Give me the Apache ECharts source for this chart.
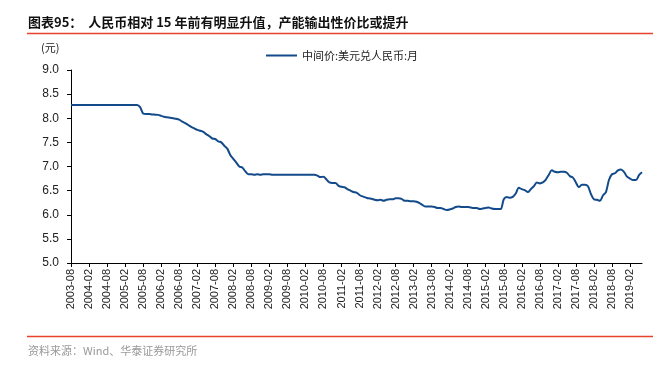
<!DOCTYPE html>
<html>
<head>
<meta charset="utf-8">
<script src="https://cdn.jsdelivr.net/npm/echarts@6/dist/echarts.min.js"></script>
<style>
html,body{margin:0;padding:0;background:#fff;}
#c{width:658px;height:372px;}
</style>
</head>
<body>
<div id="c"></div>
<script>
// Monthly categories 2003-08 .. 2019-06
var startYear = 2003, startMonth = 8, monthCount = 191;
var categories = [];
for (var i = 0; i < monthCount; i++) {
  var m = startMonth - 1 + i;
  var y = startYear + Math.floor(m / 12);
  var mm = (m % 12) + 1;
  categories.push(y + '-' + (mm < 10 ? '0' + mm : '' + mm));
}

var seriesName = '中间价:美元兑人民币:月';
var v2003 = [8.277, 8.277, 8.277, 8.277, 8.277];
var v2004 = [8.277, 8.277, 8.277, 8.277, 8.277, 8.277, 8.277, 8.277, 8.277, 8.277, 8.277, 8.277];
var v2005 = [8.277, 8.277, 8.277, 8.277, 8.277, 8.277, 8.23, 8.10, 8.09, 8.09, 8.08, 8.075];
var v2006 = [8.07, 8.05, 8.03, 8.02, 8.01, 8.00, 7.99, 7.97, 7.93, 7.90, 7.86, 7.82];
var v2007 = [7.79, 7.76, 7.74, 7.72, 7.67, 7.63, 7.58, 7.57, 7.52, 7.50, 7.43, 7.37];
var v2008 = [7.24, 7.16, 7.08, 7.00, 6.98, 6.90, 6.84, 6.84, 6.83, 6.84, 6.83, 6.84];
var v2009 = [6.84, 6.84, 6.83, 6.83, 6.83, 6.83, 6.83, 6.83, 6.83, 6.83, 6.83, 6.83];
var v2010 = [6.83, 6.83, 6.83, 6.83, 6.83, 6.81, 6.78, 6.79, 6.73, 6.67, 6.66, 6.66];
var v2011 = [6.60, 6.58, 6.57, 6.53, 6.50, 6.47, 6.46, 6.41, 6.38, 6.36, 6.34, 6.33];
var v2012 = [6.31, 6.30, 6.31, 6.29, 6.31, 6.32, 6.32, 6.34, 6.34, 6.33, 6.29, 6.29];
var v2013 = [6.28, 6.28, 6.27, 6.24, 6.20, 6.17, 6.17, 6.17, 6.16, 6.14, 6.14, 6.12];
var v2014 = [6.10, 6.11, 6.13, 6.16, 6.17, 6.16, 6.16, 6.16, 6.15, 6.14, 6.14, 6.12];
var v2015 = [6.13, 6.14, 6.15, 6.13, 6.12, 6.12, 6.12, 6.32, 6.37, 6.35, 6.37, 6.44];
var v2016 = [6.56, 6.53, 6.51, 6.47, 6.53, 6.59, 6.67, 6.65, 6.67, 6.73, 6.83, 6.92];
var v2017 = [6.89, 6.88, 6.89, 6.89, 6.87, 6.80, 6.77, 6.67, 6.57, 6.62, 6.62, 6.59];
var v2018 = [6.43, 6.32, 6.31, 6.29, 6.40, 6.47, 6.72, 6.84, 6.86, 6.92, 6.94, 6.89];
var v2019 = [6.79, 6.75, 6.72, 6.72, 6.82, 6.88];

var values = [].concat(v2003, v2004, v2005, v2006, v2007, v2008, v2009, v2010,
  v2011, v2012, v2013, v2014, v2015, v2016, v2017, v2018, v2019);

var yMin = 5.0, yMax = 9.0, yInterval = 0.5;

var titleText = '图表95：  人民币相对 15 年前有明显升值，产能输出性价比或提升';
var unitText = '(元)';
var sourceText = '资料来源：Wind、华泰证券研究所';

var chart = echarts.init(document.getElementById('c'), null, {renderer: 'canvas'});
var latin = '"Liberation Sans", Arial, sans-serif';
var cjk = '"Noto Sans CJK SC", "Liberation Sans", sans-serif';

chart.setOption({
  animation: false,
  backgroundColor: '#ffffff',
  grid: {left: 71, right: 16, top: 70, bottom: 109, containLabel: false},
  legend: {
    data: [seriesName],
    left: 266,
    top: 50,
    padding: 0,
    icon: 'rect',
    itemWidth: 31,
    itemHeight: 2,
    itemGap: 6,
    textStyle: {fontFamily: cjk, fontSize: 11, color: '#222'}
  },
  xAxis: {
    type: 'category',
    data: categories,
    boundaryGap: false,
    axisLine: {lineStyle: {color: '#000', width: 1}},
    axisTick: {show: true, interval: 5, length: 4, inside: false, lineStyle: {color: '#000'}},
    axisLabel: {
      interval: 5,
      rotate: 90,
      fontFamily: latin,
      fontSize: 11,
      color: '#222',
      margin: 6
    },
    splitLine: {show: false}
  },
  yAxis: {
    type: 'value',
    min: yMin,
    max: yMax,
    interval: yInterval,
    axisLine: {show: true, lineStyle: {color: '#000', width: 1}},
    axisTick: {show: true, length: 4, inside: false, lineStyle: {color: '#000'}},
    axisLabel: {
      fontFamily: latin,
      fontSize: 12,
      color: '#222',
      margin: 12,
      formatter: function (v) { return v.toFixed(1); }
    },
    splitLine: {show: false}
  },
  series: [{
    name: seriesName,
    type: 'line',
    data: values,
    symbol: 'none',
    smooth: 0.3,
    lineStyle: {color: '#134b8a', width: 2},
    itemStyle: {color: '#134b8a'}
  }],
  graphic: [
    {type: 'text', left: 28, top: 16,
     style: {text: titleText, font: 'bold 13px ' + cjk, fill: '#111'}},
    {type: 'line', shape: {x1: 27, y1: 33.5, x2: 653, y2: 33.5},
     style: {stroke: '#e8412c', lineWidth: 1.5}},
    {type: 'text', left: 41, top: 42,
     style: {text: unitText, font: '11px ' + cjk, fill: '#222'}},
    {type: 'line', shape: {x1: 27, y1: 336.5, x2: 653, y2: 336.5},
     style: {stroke: '#e8412c', lineWidth: 1.5}},
    {type: 'text', left: 28, top: 345,
     style: {text: sourceText, font: '11px ' + cjk, fill: '#999'}}
  ]
});
</script>
</body>
</html>
